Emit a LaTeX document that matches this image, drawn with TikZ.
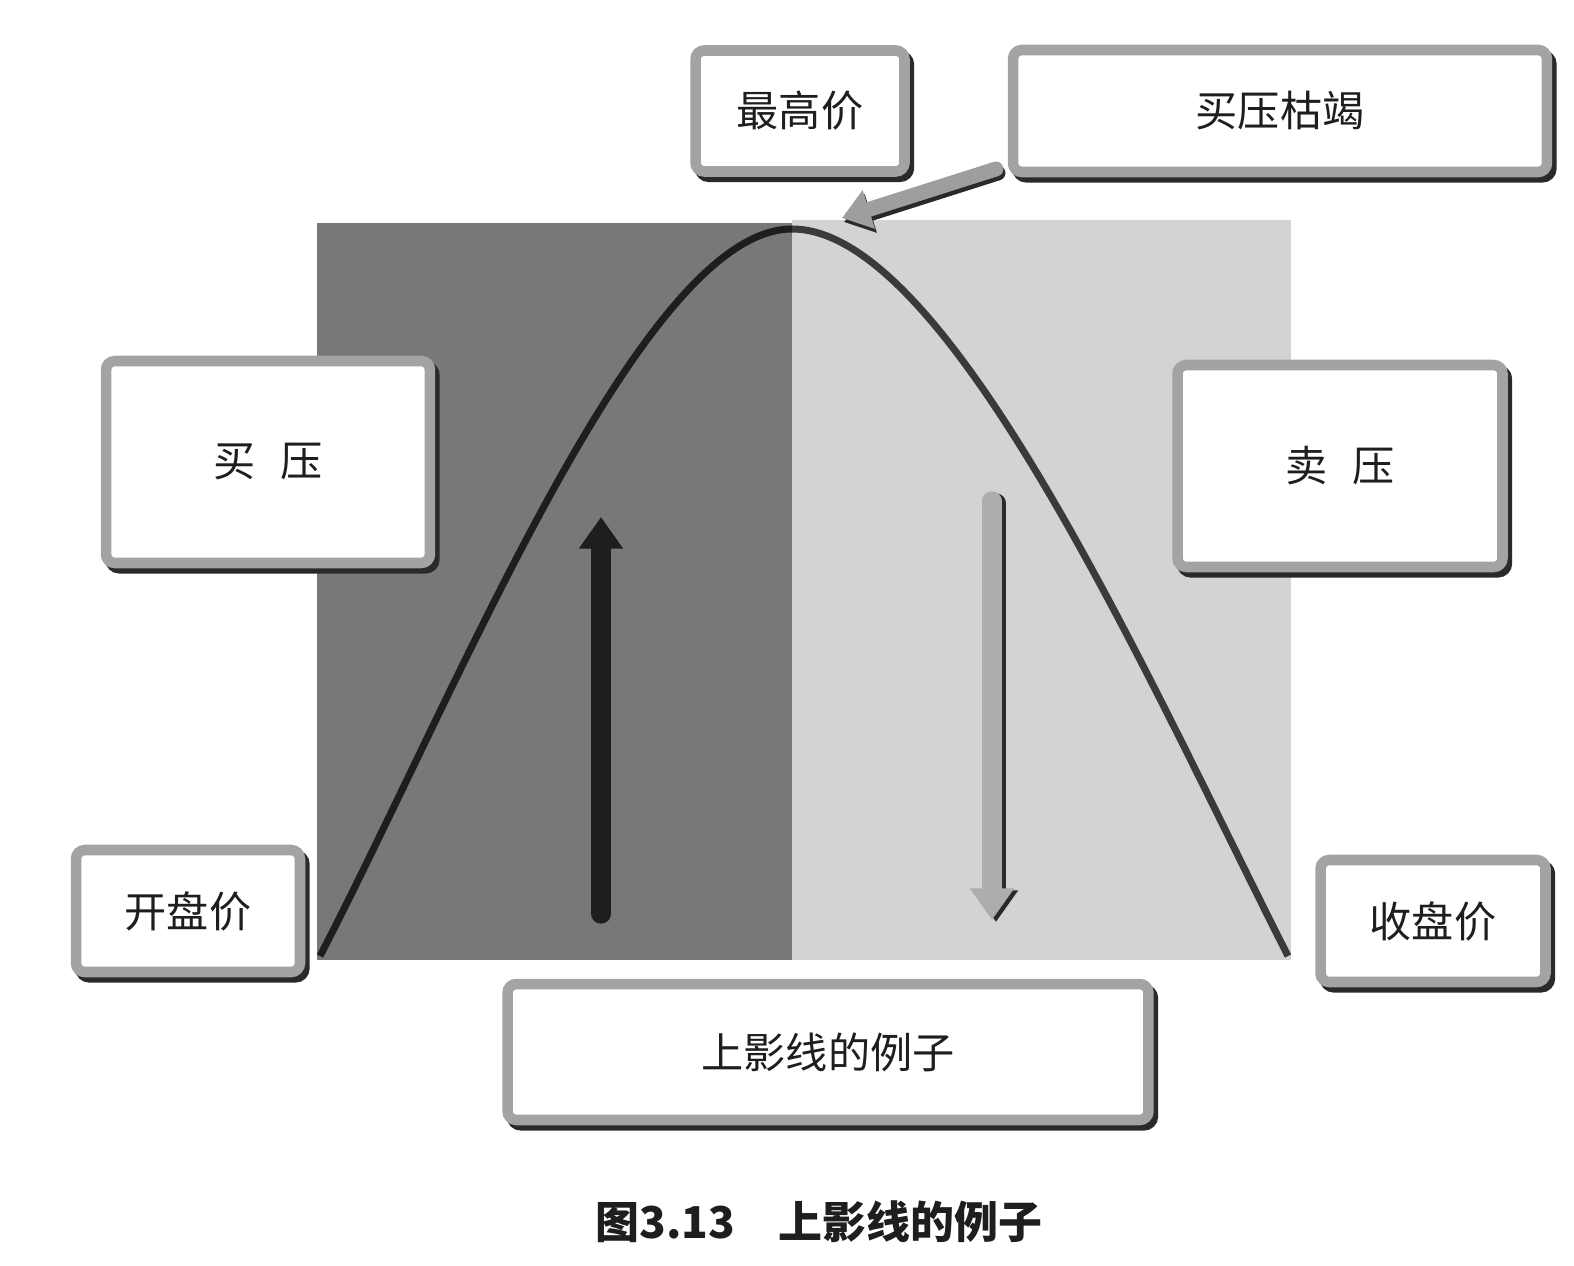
\documentclass[tikz,border=0pt]{standalone}
\usepackage{fontspec}
\usepackage{tikz}
\usetikzlibrary{arrows.meta,shadows}
\newfontfamily\cjk{Noto Sans CJK SC}
\definecolor{buyside}{HTML}{787878}
\definecolor{sellside}{HTML}{D3D3D3}
\definecolor{rim}{HTML}{A3A3A3}
\definecolor{ink}{HTML}{1E1E1E}
\definecolor{dusk}{HTML}{3A3A3A}
\definecolor{pointer}{HTML}{9E9E9E}
\definecolor{shade}{HTML}{2A2A2A}
\tikzset{
  tag/.style={rectangle, rounded corners=5pt, draw=rim, fill=white, line width=6pt,
              drop shadow={shadow xshift=2.5pt, shadow yshift=-3pt, fill=shade, draw=shade, opacity=1},
              font=\cjk\fontsize{24}{28}\selectfont, text=ink, inner sep=0pt},
  caption/.style={font=\cjk\bfseries\fontsize{25}{30}\selectfont, text=ink},
  pathL/.style={draw=ink, line width=4pt},
  pathR/.style={draw=dusk, line width=4pt},
  uparrow/.style={-{Triangle[length=18pt, width=24pt]}, draw=ink, line width=11pt, line cap=round},
  dnarrow/.style={-{Triangle[length=18pt, width=24pt]}, draw=#1, line width=11pt, line cap=round},
  poke/.style={-{Triangle[length=16pt, width=22pt]}, draw=#1, line width=8.5pt, line cap=round}
}

\begin{document}
\begin{tikzpicture}[x=0.02cm, y=-0.02cm]
  \useasboundingbox (0,0) rectangle (1574,1266);
  % buying half and selling half
  \fill[buyside] (317,223) rectangle (792,960);
  \fill[sellside] (792,220) rectangle (1291,960);
  % price path
  \coordinate (openpt) at (320,956);
  \coordinate (top) at (792,229);
  \coordinate (closept) at (1288,956);
  \draw[pathL] (openpt) .. controls (458,690) and (642,229) .. (top);
  \draw[pathR] (top) .. controls (950,229) and (1152,688) .. (closept);
  % labels
  \node[tag, minimum width=4.18cm, minimum height=2.42cm] (high) at (800,111) {最高价};
  \node[tag, minimum width=10.68cm, minimum height=2.44cm] (dry) at (1280,111) {买压枯竭};
  \node[tag, minimum width=6.48cm, minimum height=4.04cm] (buy) at (268,462) {买\hspace{0.58em}压};
  \node[tag, minimum width=6.5cm, minimum height=4.04cm] (sell) at (1340,466) {卖\hspace{0.58em}压};
  \node[tag, minimum width=4.48cm, minimum height=2.44cm] (open) at (188,911) {开盘价};
  \node[tag, minimum width=4.5cm, minimum height=2.44cm] (close) at (1433,921) {收盘价};
  \node[tag, minimum width=12.82cm, minimum height=2.72cm] (title) at (828,1052) {上影线的例子};
  \node[caption] (cap) at (819,1222) {图3.13　上影线的例子};
  % arrows
  \coordinate (upfoot) at (601,914);
  \coordinate (uphead) at (601,517);
  \draw[uparrow] (upfoot) -- (uphead);
  \coordinate (dntop) at (992,501);
  \coordinate (dnhead) at (992,920);
  \draw[dnarrow=shade, transform canvas={shift={(4,2)}}] (dntop) -- (dnhead);
  \draw[dnarrow=pointer!85] (dntop) -- (dnhead);
  \coordinate (ptail) at (996,169);
  \coordinate (peak) at (842,218);
  \draw[poke=shade, transform canvas={shift={(2,4)}}] (ptail) -- (peak);
  \draw[poke=pointer] (ptail) -- (peak);
\end{tikzpicture}
\end{document}
